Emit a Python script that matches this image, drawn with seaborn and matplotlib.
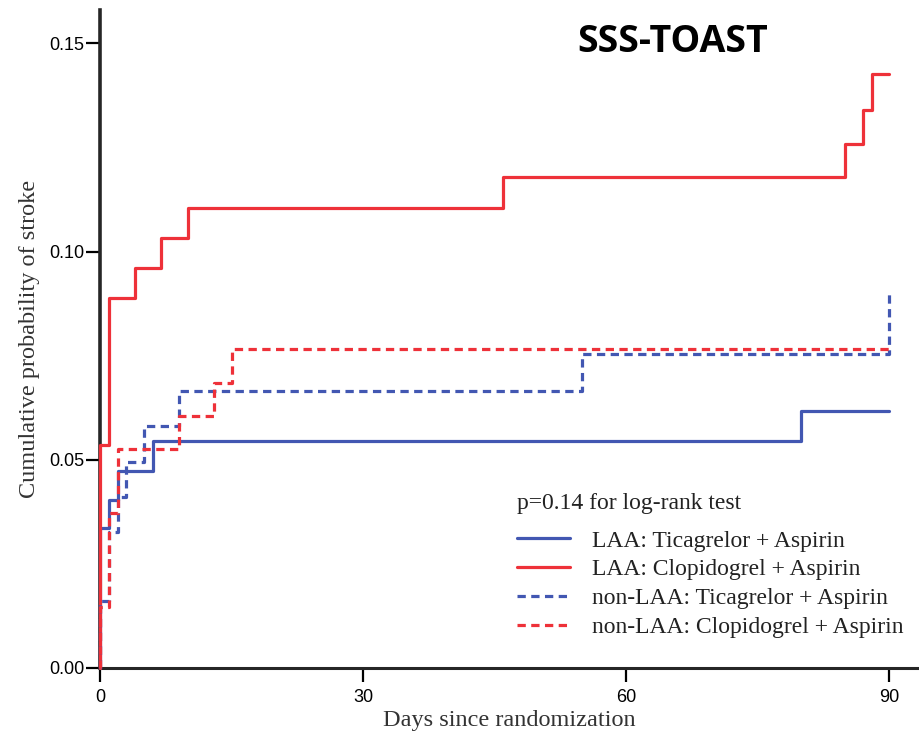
import matplotlib
matplotlib.use('Agg')

import matplotlib.pyplot as plt
import numpy as np
import pandas as pd
import seaborn as sns

# ====================================
# DATA
# ====================================

days_laa_tica = [0, 0, 1, 2, 6, 80, 90]
prob_laa_tica = [0, 0.0336, 0.0403, 0.0473, 0.0545, 0.0617, 0.0617]

days_laa_clop = [0, 0, 1, 4, 7, 10, 46, 85, 87, 88, 90]
prob_laa_clop = [0, 0.0535, 0.0888, 0.0960, 0.1033, 0.1105,
                 0.1180, 0.1259, 0.1341, 0.1427, 0.1427]

days_non_tica = [0, 0, 1, 2, 3, 5, 9, 55, 90, 90]
prob_non_tica = [0, 0.0160, 0.0327, 0.0411, 0.0495, 0.0580,
                 0.0665, 0.0755, 0.0755, 0.0907]

days_non_clop = [0, 0, 1, 2, 9, 13, 15, 90]
prob_non_clop = [0, 0.0147, 0.0372, 0.0527, 0.0605, 0.0685, 0.0765, 0.0765]

labels = [
    'LAA: Ticagrelor + Aspirin',
    'LAA: Clopidogrel + Aspirin',
    'non-LAA: Ticagrelor + Aspirin',
    'non-LAA: Clopidogrel + Aspirin',
]

x_ticks = [0, 30, 60, 90]
y_ticks = [0.00, 0.05, 0.10, 0.15]
y_tick_labels = ['0.00', '0.05', '0.10', '0.15']

BLUE = '#4257B2'
RED = '#EE3139'

# ====================================
# STYLE
# ====================================

sns.set_style('ticks')
plt.rcParams['font.family'] = ['Liberation Sans', 'DejaVu Sans']

fig = plt.figure(figsize=(9.19, 7.43), dpi=100)
ax = fig.add_axes([100 / 919, 75 / 743, 818 / 919, 658 / 743])

series = [
    (days_laa_tica, prob_laa_tica, BLUE, '-'),
    (days_laa_clop, prob_laa_clop, RED, '-'),
    (days_non_tica, prob_non_tica, BLUE, (0, (2.6, 1.7))),
    (days_non_clop, prob_non_clop, RED, (0, (2.6, 1.7))),
]

handles = []
for (days, probs, color, ls), label in zip(series, labels):
    df = pd.DataFrame({'day': days, 'prob': probs})
    sns.lineplot(
        data=df, x='day', y='prob', ax=ax,
        estimator=None, sort=False,
        drawstyle='steps-post',
        color=color, linestyle=ls, linewidth=2.3,
        clip_on=False, zorder=3,
    )
    handles.append(ax.lines[-1])

# ====================================
# AXES
# ====================================

ax.set_xlim(0, 93.3)
ax.set_ylim(0, 0.158)

ax.set_xticks(x_ticks)
ax.set_yticks(y_ticks)
ax.set_yticklabels(y_tick_labels)

sns.despine(ax=ax)
ax.spines['left'].set_linewidth(2.6)
ax.spines['bottom'].set_linewidth(2.2)

ax.tick_params(axis='both', direction='out', length=10, width=1.6,
               labelsize=13, colors='black')
ax.tick_params(axis='x', pad=5)
ax.tick_params(axis='y', pad=1)

ax.set_xlabel('Days since randomization', family='Liberation Serif',
              fontsize=17.5, color='#333333', labelpad=3)
ax.set_ylabel('Cumulative probability of stroke', family='Liberation Serif',
              fontsize=17.5, color='#333333', labelpad=7)

# ====================================
# TITLE + LEGEND
# ====================================

fig.text(0.732, 0.9435, 'SSS-TOAST', family='Open Sans', fontweight='bold',
         fontsize=27, ha='center', va='center', color='black')

fig.text(517 / 919, 1 - 503 / 743, 'p=0.14 for log-rank test',
         family='Liberation Serif', fontsize=17, color='#222222',
         ha='left', va='center')

leg = ax.legend(
    handles=handles, labels=labels,
    loc='upper left', bbox_to_anchor=(517 / 919, 1 - 530 / 743),
    bbox_transform=fig.transFigure,
    frameon=False, borderpad=0, borderaxespad=0,
    handlelength=2.25, handletextpad=0.92, labelspacing=0.31,
    prop={'family': 'Liberation Serif', 'size': 17},
)
for t in leg.get_texts():
    t.set_color('#222222')

plt.savefig('out.png', dpi=100)
plt.close()
